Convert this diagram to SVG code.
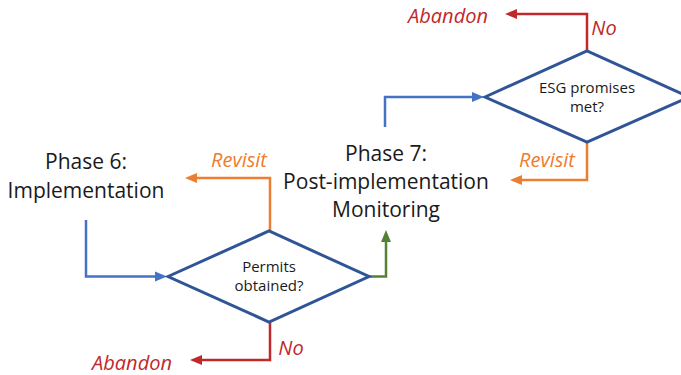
<svg xmlns="http://www.w3.org/2000/svg" width="681" height="375" viewBox="0 0 681 375">
<style>
.phase{font-family:"Open Sans","Liberation Sans",sans-serif;font-size:21px;fill:#1a1a1a;text-anchor:middle}
.q{font-family:"Open Sans","Liberation Sans",sans-serif;font-size:15px;fill:#1a1a1a;text-anchor:middle}
.lbl{font-family:"Open Sans","Liberation Sans",sans-serif;font-size:20px;font-style:italic;text-anchor:middle}
.dia{fill:#ffffff;stroke:#2F5597;stroke-width:3;stroke-linejoin:miter}
.c{fill:none;stroke-width:2.5}
.blue{stroke:#4472C4}
.orange{stroke:#ED7D31}
.red{stroke:#C0282A}
.green{stroke:#548235}
</style>
<defs>
<marker id="aBlue" markerUnits="userSpaceOnUse" markerWidth="12" markerHeight="12" refX="6" refY="6" orient="auto" viewBox="0 0 12 12"><path d="M0,1 L12,6 L0,11 z" fill="#4472C4"/></marker>
<marker id="aOrange" markerUnits="userSpaceOnUse" markerWidth="12" markerHeight="12" refX="6" refY="6" orient="auto" viewBox="0 0 12 12"><path d="M0,1 L12,6 L0,11 z" fill="#ED7D31"/></marker>
<marker id="aRed" markerUnits="userSpaceOnUse" markerWidth="12" markerHeight="12" refX="6" refY="6" orient="auto" viewBox="0 0 12 12"><path d="M0,1 L12,6 L0,11 z" fill="#C0282A"/></marker>
<marker id="aGreen" markerUnits="userSpaceOnUse" markerWidth="12" markerHeight="12" refX="6" refY="6" orient="auto" viewBox="0 0 12 12"><path d="M0,1 L12,6 L0,11 z" fill="#548235"/></marker>
</defs>
<g id="connectors">
<path class="c blue" d="M86,220 V276.5 H161" marker-end="url(#aBlue)"/>
<path class="c orange" d="M270,231 V178 H191" marker-end="url(#aOrange)"/>
<path class="c red" d="M270,322 V360 H196" marker-end="url(#aRed)"/>
<path class="c green" d="M369,276.5 H386 V236" marker-end="url(#aGreen)"/>
<path class="c blue" d="M385,127 V97 H478" marker-end="url(#aBlue)"/>
<path class="c red" d="M587,51 V14 H511" marker-end="url(#aRed)"/>
<path class="c orange" d="M587,142 V180 H516" marker-end="url(#aOrange)"/>
</g>
<g id="phase6">
<text class="phase" x="86" y="169">Phase 6:</text>
<text class="phase" x="86" y="198">Implementation</text>
</g>
<g id="phase7">
<text class="phase" x="386" y="161">Phase 7:</text>
<text class="phase" x="386" y="189">Post-implementation</text>
<text class="phase" x="386" y="217">Monitoring</text>
</g>
<g id="permits">
<polygon class="dia" points="168,276.5 269,231 369,276.5 269,322"/>
<text class="q" x="269" y="272">Permits</text>
<text class="q" x="269" y="291">obtained?</text>
</g>
<g id="esg">
<polygon class="dia" points="485,97 587,51 689,97 587,142"/>
<text class="q" x="587" y="93">ESG promises</text>
<text class="q" x="587" y="112">met?</text>
</g>
<g id="labels">
<text class="lbl" x="239" y="167" fill="#ED7D31">Revisit</text>
<text class="lbl" x="132" y="370" fill="#C0282A">Abandon</text>
<text class="lbl" x="291" y="355" fill="#C0282A">No</text>
<text class="lbl" x="448" y="23" fill="#C0282A">Abandon</text>
<text class="lbl" x="604" y="35" fill="#C0282A">No</text>
<text class="lbl" x="547" y="167" fill="#ED7D31">Revisit</text>
</g>
</svg>
